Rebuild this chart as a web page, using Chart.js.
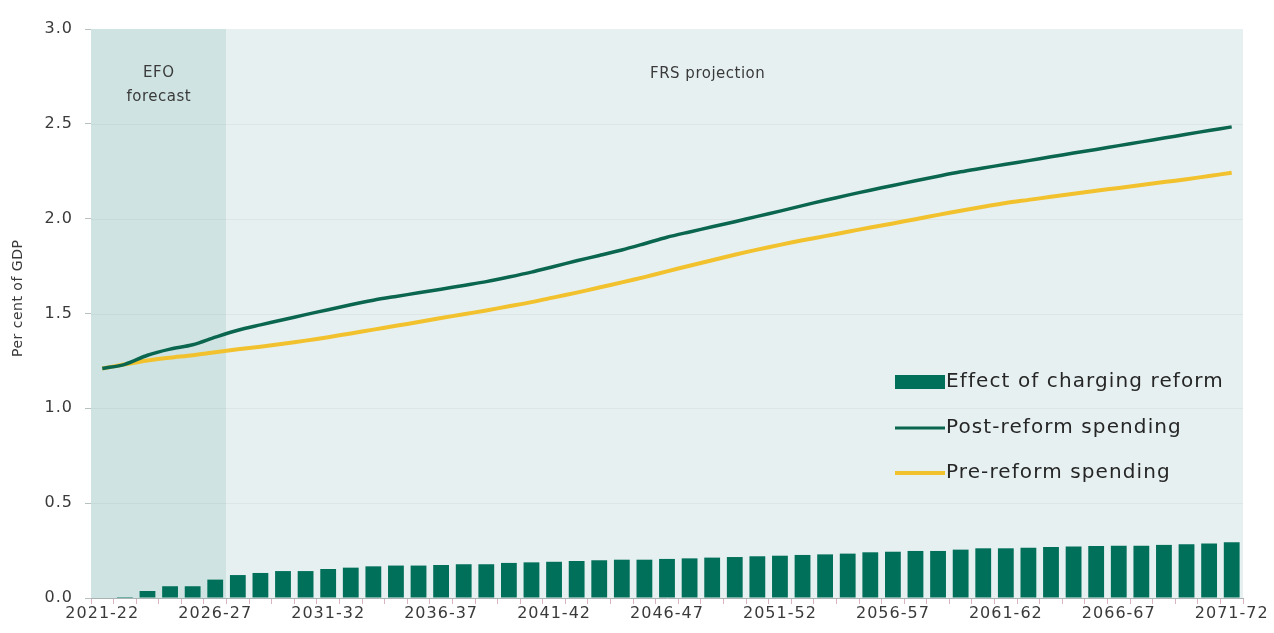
<!DOCTYPE html>
<html>
<head>
<meta charset="utf-8">
<script src="https://cdn.jsdelivr.net/npm/chart.js@4"></script>
<style>
    body { margin: 0; background: #ffffff; }
    .careChart { width: 1274px; height: 633px; position: relative; }
</style>
</head>
<body>
<div class="careChart">
    <canvas id="socialCareChart"></canvas>
</div>
<script>
const years = [
    '2021-22', '2022-23', '2023-24', '2024-25', '2025-26', '2026-27', '2027-28', '2028-29', '2029-30', '2030-31',
    '2031-32', '2032-33', '2033-34', '2034-35', '2035-36', '2036-37', '2037-38', '2038-39', '2039-40', '2040-41',
    '2041-42', '2042-43', '2043-44', '2044-45', '2045-46', '2046-47', '2047-48', '2048-49', '2049-50', '2050-51',
    '2051-52', '2052-53', '2053-54', '2054-55', '2055-56', '2056-57', '2057-58', '2058-59', '2059-60', '2060-61',
    '2061-62', '2062-63', '2063-64', '2064-65', '2065-66', '2066-67', '2067-68', '2068-69', '2069-70', '2070-71',
    '2071-72'
];

// effect of charging reform (bars), per cent of GDP
const chargingEffect = [
    0.000, 0.005, 0.037, 0.062, 0.062, 0.097, 0.121, 0.132, 0.142, 0.142,
    0.153, 0.160, 0.167, 0.171, 0.171, 0.174, 0.178, 0.178, 0.185, 0.188,
    0.191, 0.195, 0.199, 0.202, 0.202, 0.206, 0.209, 0.213, 0.216, 0.220,
    0.223, 0.227, 0.230, 0.234, 0.241, 0.244, 0.248, 0.248, 0.255, 0.262,
    0.262, 0.265, 0.269, 0.272, 0.274, 0.276, 0.276, 0.280, 0.283, 0.288,
    0.294
];

const postReform = [
    1.210, 1.232, 1.280, 1.312, 1.335, 1.375, 1.412, 1.440, 1.467, 1.494,
    1.520, 1.546, 1.570, 1.590, 1.609, 1.628, 1.648, 1.668, 1.692, 1.718,
    1.748, 1.778, 1.806, 1.835, 1.868, 1.902, 1.930, 1.957, 1.984, 2.012,
    2.040, 2.069, 2.097, 2.124, 2.150, 2.175, 2.200, 2.224, 2.247, 2.267,
    2.287, 2.306, 2.326, 2.346, 2.365, 2.385, 2.405, 2.425, 2.445, 2.465,
    2.484
];

const preReform = [
    1.210, 1.232, 1.252, 1.267, 1.280, 1.296, 1.311, 1.325, 1.340, 1.357,
    1.375, 1.395, 1.415, 1.435, 1.455, 1.476, 1.496, 1.516, 1.538, 1.560,
    1.585, 1.610, 1.637, 1.664, 1.692, 1.722, 1.752, 1.781, 1.810, 1.837,
    1.862, 1.886, 1.908, 1.931, 1.953, 1.975, 1.997, 2.020, 2.042, 2.063,
    2.083, 2.099, 2.115, 2.131, 2.147, 2.162, 2.177, 2.193, 2.208, 2.225,
    2.242
];

const seriesNames = ['Effect of charging reform', 'Post-reform spending', 'Pre-reform spending'];
const forecastEnd = '2026-27';
const periodLabels = [['EFO', 'forecast'], ['FRS projection']];
const yAxisTitle = 'Per cent of GDP';

const fontFamily = "'DejaVu Sans', sans-serif";
const textColour = '#3a3a3a';
const barGreen = '#00705a';
const lineGreen = '#0b6650';
const lineYellow = '#f2c12e';

// wider lettering for the whole chart, closer to the original typeface
const letterSpacing = {
    id: 'letterSpacing',
    beforeLayout(chart) {
        chart.ctx.letterSpacing = '1px';
    },
    beforeDraw(chart) {
        chart.ctx.letterSpacing = '1px';
    }
};

// shaded forecast / projection areas behind the data
const periodShading = {
    id: 'periodShading',
    beforeDatasetsDraw(chart) {
        const {ctx, chartArea, scales: {x, y}} = chart;
        let endIndex = years.indexOf(forecastEnd);
        let split = (x.getPixelForValue(endIndex) + x.getPixelForValue(endIndex + 1)) / 2;
        let top = y.getPixelForValue(3);
        let bottom = y.getPixelForValue(0);
        ctx.save();
        ctx.fillStyle = '#cfe4e2';
        ctx.fillRect(chartArea.left, top, split - chartArea.left, bottom - top);
        ctx.fillStyle = '#e7f0f1';
        ctx.fillRect(split, top, chartArea.right - split, bottom - top);
        // faint grid lines over the shading
        ctx.strokeStyle = 'rgba(0, 0, 0, 0.045)';
        ctx.lineWidth = 1;
        for (let v = 0.5; v < 3; v += 0.5) {
            let py = Math.round(y.getPixelForValue(v)) + 0.5;
            ctx.beginPath();
            ctx.moveTo(chartArea.left, py);
            ctx.lineTo(chartArea.right, py);
            ctx.stroke();
        }
        // period labels
        ctx.fillStyle = textColour;
        ctx.font = '15px ' + fontFamily;
        ctx.letterSpacing = '0.5px';
        ctx.textAlign = 'center';
        ctx.textBaseline = 'middle';
        let efoX = (chartArea.left + split) / 2;
        ctx.fillText(periodLabels[0][0], efoX, y.getPixelForValue(2.77));
        ctx.fillText(periodLabels[0][1], efoX, y.getPixelForValue(2.64));
        ctx.fillText(periodLabels[1][0], x.getPixelForValue(26.8), y.getPixelForValue(2.76));
        // y axis title, rotated
        ctx.translate(18, y.getPixelForValue(1.58));
        ctx.rotate(-Math.PI / 2);
        ctx.font = '14px ' + fontFamily;
        ctx.fillText(yAxisTitle, 0, 0);
        ctx.restore();
    }
};

// legend drawn inside the plot, lower right
const insideLegend = {
    id: 'insideLegend',
    afterDraw(chart) {
        const {ctx} = chart;
        let left = 895, swatch = 50;
        let rows = [382, 428, 473];
        ctx.save();
        ctx.font = '20px ' + fontFamily;
        ctx.letterSpacing = '1.1px';
        ctx.textAlign = 'left';
        ctx.textBaseline = 'middle';
        ctx.fillStyle = barGreen;
        ctx.fillRect(left, rows[0] - 7, swatch, 14);
        ctx.lineWidth = 3;
        ctx.strokeStyle = lineGreen;
        ctx.beginPath();
        ctx.moveTo(left, rows[1]);
        ctx.lineTo(left + swatch, rows[1]);
        ctx.stroke();
        ctx.lineWidth = 4;
        ctx.strokeStyle = lineYellow;
        ctx.beginPath();
        ctx.moveTo(left, rows[2]);
        ctx.lineTo(left + swatch, rows[2]);
        ctx.stroke();
        ctx.fillStyle = '#262626';
        for (let i = 0; i < rows.length; i++) {
            ctx.fillText(seriesNames[i], left + swatch + 1, rows[i]);
        }
        ctx.restore();
    }
};

let ctx = document.getElementById('socialCareChart');
new Chart(ctx, {
    data: {
        labels: years,
        datasets: [
            {
                type: 'line',
                label: seriesNames[2],
                data: preReform,
                borderColor: lineYellow,
                borderWidth: 4,
                pointRadius: 0,
                fill: false,
                tension: 0.3,
                order: 1
            },
            {
                type: 'line',
                label: seriesNames[1],
                data: postReform,
                borderColor: lineGreen,
                borderWidth: 3.5,
                pointRadius: 0,
                fill: false,
                tension: 0.3,
                order: 0
            },
            {
                type: 'bar',
                label: seriesNames[0],
                data: chargingEffect,
                backgroundColor: barGreen,
                categoryPercentage: 1,
                barPercentage: 0.7,
                order: 2 //bars drawn below the lines
            }
        ]
    },
    options: {
        responsive: true,
        maintainAspectRatio: false,
        animation: false,
        layout: {
            padding: {top: 29, right: 31, left: 0, bottom: 0}
        },
        scales: {
            x: {
                offset: true,
                grid: {
                    offset: true,
                    drawOnChartArea: false,
                    tickLength: 6,
                    tickColor: '#d8b4bf'
                },
                border: {color: '#a9b3b3'},
                ticks: {
                    autoSkip: false,
                    maxRotation: 0,
                    padding: 0,
                    color: textColour,
                    font: {family: fontFamily, size: 16},
                    callback: function (value, index) {
                        return index % 5 === 0 ? years[index] : '';
                    }
                },
                afterFit: function (scale) {
                    scale.height = 35;
                }
            },
            y: {
                min: 0,
                max: 3,
                ticks: {
                    stepSize: 0.5,
                    padding: 12,
                    color: textColour,
                    font: {family: fontFamily, size: 16},
                    callback: value => value.toFixed(1)
                },
                grid: {
                    drawOnChartArea: false,
                    tickLength: 6,
                    tickColor: '#b8c0c0'
                },
                border: {color: '#a9b3b3'},
                afterFit: function (scale) {
                    scale.width = 91;
                }
            }
        },
        plugins: {
            legend: {display: false},
            title: {display: false},
            tooltip: {enabled: false}
        }
    },
    plugins: [letterSpacing, periodShading, insideLegend]
});
</script>
</body>
</html>
